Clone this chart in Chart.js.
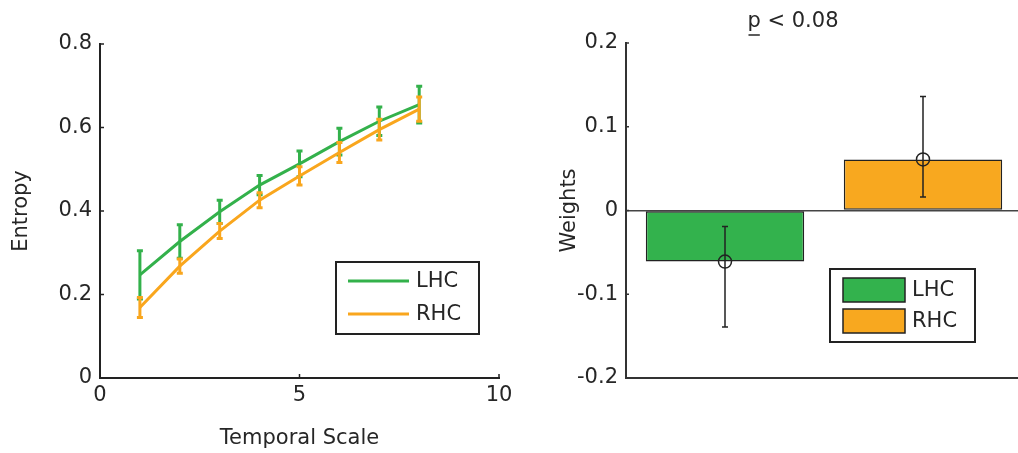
<!DOCTYPE html>
<html><head><meta charset="utf-8">
<script src="https://cdn.jsdelivr.net/npm/chart.js@4.4.1/dist/chart.umd.min.js"></script>
<style>
html,body{margin:0;padding:0;background:#fff;overflow:hidden;width:1018px;height:453px;}
#c1{position:absolute;left:0;top:0;}
#c2{position:absolute;left:520px;top:0;}
</style></head><body>
<canvas id="c1" width="520" height="453"></canvas>
<canvas id="c2" width="510" height="453"></canvas>
<script>
// ---- data ----
const temporalScales = [1, 2, 3, 4, 5, 6, 7, 8];
const lhcEntropy = [0.247, 0.327, 0.398, 0.462, 0.513, 0.566, 0.615, 0.655];
const lhcError   = [0.058, 0.040, 0.028, 0.023, 0.031, 0.032, 0.034, 0.044];
const rhcEntropy = [0.169, 0.268, 0.352, 0.426, 0.484, 0.540, 0.595, 0.644];
const rhcError   = [0.024, 0.017, 0.018, 0.018, 0.022, 0.024, 0.025, 0.029];

const hemispheres = ['LHC', 'RHC'];
const weights      = [-0.061, 0.061];
const weightsLower = [-0.139, 0.016];
const weightsUpper = [-0.019, 0.136];

const entropyTicks = [0, 0.2, 0.4, 0.6, 0.8];
const scaleTicks = [0, 5, 10];
const weightTicks = [-0.2, -0.1, 0, 0.1, 0.2];
const titleText = 'p < 0.08';

// ---- styling ----
const GREEN = '#33b14b', ORANGE = '#f9a61d';
const BAR_GREEN = '#33b24d', BAR_ORANGE = '#f8a81f';
const TXT = '#262626', AX = '#222222';
Chart.defaults.font.family = 'DejaVu Sans';
Chart.defaults.font.size = 21;
Chart.defaults.color = TXT;
Chart.defaults.animation = false;

const innerTicks = {
  id: 'innerTicks',
  beforeDatasetsDraw(chart, args, opts) {
    const ctx = chart.ctx;
    ctx.save();
    ctx.strokeStyle = opts.color || AX;
    ctx.lineWidth = opts.width || 1.5;
    (opts.axes || []).forEach(id => {
      const s = chart.scales[id];
      s.ticks.forEach(t => {
        const p = s.getPixelForValue(t.value);
        ctx.beginPath();
        if (s.isHorizontal()) { ctx.moveTo(p, s.top); ctx.lineTo(p, s.top - opts.len); }
        else { ctx.moveTo(s.right, p); ctx.lineTo(s.right + opts.len, p); }
        ctx.stroke();
      });
    });
    ctx.restore();
  }
};

const lineErrors = {
  id: 'lineErrors',
  afterDatasetDraw(chart, args) {
    const ds = chart.data.datasets[args.index];
    if (!ds.errors) return;
    const ctx = chart.ctx, xs = chart.scales.x, ys = chart.scales.y;
    ctx.save();
    ctx.strokeStyle = ds.borderColor; ctx.lineWidth = 3; ctx.lineCap = 'butt';
    ds.data.forEach((d, i) => {
      const px = xs.getPixelForValue(d.x);
      const yt = ys.getPixelForValue(d.y + ds.errors[i]);
      const yb = ys.getPixelForValue(d.y - ds.errors[i]);
      ctx.beginPath();
      ctx.moveTo(px, yt); ctx.lineTo(px, yb);
      ctx.moveTo(px - 3, yt); ctx.lineTo(px + 3, yt);
      ctx.moveTo(px - 3, yb); ctx.lineTo(px + 3, yb);
      ctx.stroke();
    });
    ctx.restore();
  }
};

const barErrors = {
  id: 'barErrors',
  afterDatasetDraw(chart, args) {
    const ds = chart.data.datasets[args.index];
    if (!ds.lower) return;
    const ctx = chart.ctx, ys = chart.scales.y;
    ctx.save();
    ctx.strokeStyle = AX; ctx.lineWidth = 1.5;
    args.meta.data.forEach((el, i) => {
      const px = el.x;
      const yt = ys.getPixelForValue(ds.upper[i]);
      const yb = ys.getPixelForValue(ds.lower[i]);
      ctx.beginPath();
      ctx.moveTo(px, yt); ctx.lineTo(px, yb);
      ctx.moveTo(px - 3, yt); ctx.lineTo(px + 3, yt);
      ctx.moveTo(px - 3, yb); ctx.lineTo(px + 3, yb);
      ctx.stroke();
    });
    ctx.restore();
  }
};

const boxLegend = {
  id: 'boxLegend',
  afterDraw(chart, args, o) {
    const ctx = chart.ctx, a = chart.chartArea;
    const bx = a.right - o.right - o.w, by = a.bottom - o.bottom - o.h;
    ctx.save();
    ctx.fillStyle = '#fff';
    ctx.fillRect(bx, by, o.w, o.h);
    ctx.strokeStyle = AX; ctx.lineWidth = 2;
    ctx.strokeRect(bx, by, o.w, o.h);
    ctx.font = '21px "DejaVu Sans"';
    ctx.textBaseline = 'middle'; ctx.textAlign = 'left'; ctx.fillStyle = TXT;
    o.items.forEach((it, i) => {
      const cy = by + o.rowY[i];
      if (o.kind === 'line') {
        ctx.strokeStyle = it.color; ctx.lineWidth = 3;
        ctx.beginPath(); ctx.moveTo(bx + o.symX, cy); ctx.lineTo(bx + o.symX + o.symW, cy); ctx.stroke();
      } else {
        ctx.fillStyle = it.color;
        ctx.fillRect(bx + o.symX, cy - o.symH / 2, o.symW, o.symH);
        ctx.strokeStyle = AX; ctx.lineWidth = 1.5;
        ctx.strokeRect(bx + o.symX, cy - o.symH / 2, o.symW, o.symH);
      }
      ctx.fillStyle = TXT;
      ctx.fillText(it.label, bx + o.textX, cy + 1);
    });
    ctx.restore();
  }
};

const pTitle = {
  id: 'pTitle',
  afterDraw(chart, args, o) {
    const ctx = chart.ctx, a = chart.chartArea;
    ctx.save();
    ctx.font = '21px "DejaVu Sans"';
    ctx.fillStyle = TXT; ctx.textBaseline = 'middle'; ctx.textAlign = 'center';
    const cx = a.left + o.dx, cy = o.y;
    ctx.fillText(o.text, cx, cy);
    const w = ctx.measureText(o.text).width;
    const pw = ctx.measureText(o.text.charAt(0)).width;
    const x0 = cx - w / 2;
    ctx.strokeStyle = TXT; ctx.lineWidth = 1.5;
    ctx.beginPath(); ctx.moveTo(x0 + 1, cy + 13); ctx.lineTo(x0 + pw - 1, cy + 13); ctx.stroke();
    ctx.restore();
  }
};

// ---- left chart ----
new Chart(document.getElementById('c1'), {
  type: 'line',
  data: {
    datasets: [
      { label: 'LHC', data: temporalScales.map((x, i) => ({ x, y: lhcEntropy[i] })), errors: lhcError,
        borderColor: GREEN, backgroundColor: GREEN, borderWidth: 3, pointRadius: 0, order: 2 },
      { label: 'RHC', data: temporalScales.map((x, i) => ({ x, y: rhcEntropy[i] })), errors: rhcError,
        borderColor: ORANGE, backgroundColor: ORANGE, borderWidth: 3, pointRadius: 0, order: 1 }
    ]
  },
  options: {
    responsive: false,
    layout: { padding: { left: 0, top: 44, right: 21, bottom: 0 } },
    scales: {
      x: {
        type: 'linear', min: 0, max: 10,
        afterBuildTicks: s => { s.ticks = scaleTicks.map(v => ({ value: v })); },
        afterFit: s => { s.height = 75; },
        grid: { drawOnChartArea: false, drawTicks: false },
        border: { display: true, color: AX, width: 2 },
        ticks: { padding: 5, color: TXT },
        title: { display: true, text: 'Temporal Scale', color: TXT, padding: { top: 0, bottom: 2 } }
      },
      y: {
        min: 0, max: 0.8,
        afterBuildTicks: s => { s.ticks = entropyTicks.map(v => ({ value: v })); },
        afterFit: s => { s.width = 100; },
        grid: { drawOnChartArea: false, drawTicks: false },
        border: { display: true, color: AX, width: 2 },
        ticks: { padding: 8, color: TXT },
        title: { display: true, text: 'Entropy', color: TXT, padding: { top: 9, bottom: 0 } }
      }
    },
    plugins: {
      legend: { display: false }, tooltip: { enabled: false },
      innerTicks: { axes: ['x', 'y'], len: 4, width: 1.5 },
      boxLegend: {
        kind: 'line', right: 20, bottom: 44, w: 143, h: 72,
        symX: 12, symW: 61, textX: 80, rowY: [19, 52],
        items: [{ label: 'LHC', color: GREEN }, { label: 'RHC', color: ORANGE }]
      }
    }
  },
  plugins: [innerTicks, lineErrors, boxLegend]
});

// ---- right chart ----
new Chart(document.getElementById('c2'), {
  type: 'bar',
  data: {
    labels: hemispheres,
    datasets: [
      { type: 'line', label: 'mean', data: weights, showLine: false, pointRadius: 6.5, pointStyle: 'circle',
        pointBackgroundColor: 'rgba(0,0,0,0)', pointBorderColor: AX, pointBorderWidth: 1.5, order: 0 },
      { label: 'Weights', data: weights, lower: weightsLower, upper: weightsUpper,
        backgroundColor: [BAR_GREEN, BAR_ORANGE], borderColor: AX, borderWidth: 1.5, borderSkipped: false,
        barPercentage: 0.8, categoryPercentage: 1.0, order: 1 }
    ]
  },
  options: {
    responsive: false,
    layout: { padding: { left: 0, top: 43, right: 4, bottom: 0 } },
    scales: {
      x: {
        afterFit: s => { s.height = 75; },
        grid: { display: false, drawTicks: false },
        border: { display: true, color: '#333', width: 2 },
        ticks: { display: false }
      },
      y: {
        min: -0.2, max: 0.2,
        afterBuildTicks: s => { s.ticks = weightTicks.map(v => ({ value: v })); },
        afterFit: s => { s.width = 106; },
        grid: { drawTicks: false, lineWidth: 1.5,
          color: c => (c.tick && Math.abs(c.tick.value) < 1e-9) ? '#444' : 'rgba(0,0,0,0)' },
        border: { display: true, color: '#333', width: 2 },
        ticks: { padding: 8, color: TXT },
        title: { display: true, text: 'Weights', color: TXT, padding: { top: 37, bottom: 0 } }
      }
    },
    plugins: {
      legend: { display: false }, tooltip: { enabled: false },
      innerTicks: { axes: ['y'], len: 3, width: 1.5, color: '#333' },
      boxLegend: {
        kind: 'box', right: 47, bottom: 36, w: 145, h: 73,
        symX: 13, symW: 62, symH: 24, textX: 82, rowY: [21, 52],
        items: hemispheres.map((h, i) => ({ label: h, color: [BAR_GREEN, BAR_ORANGE][i] }))
      },
      pTitle: { text: titleText, dx: 167, y: 22 }
    }
  },
  plugins: [innerTicks, barErrors, boxLegend, pTitle]
});
</script>
</body></html>
